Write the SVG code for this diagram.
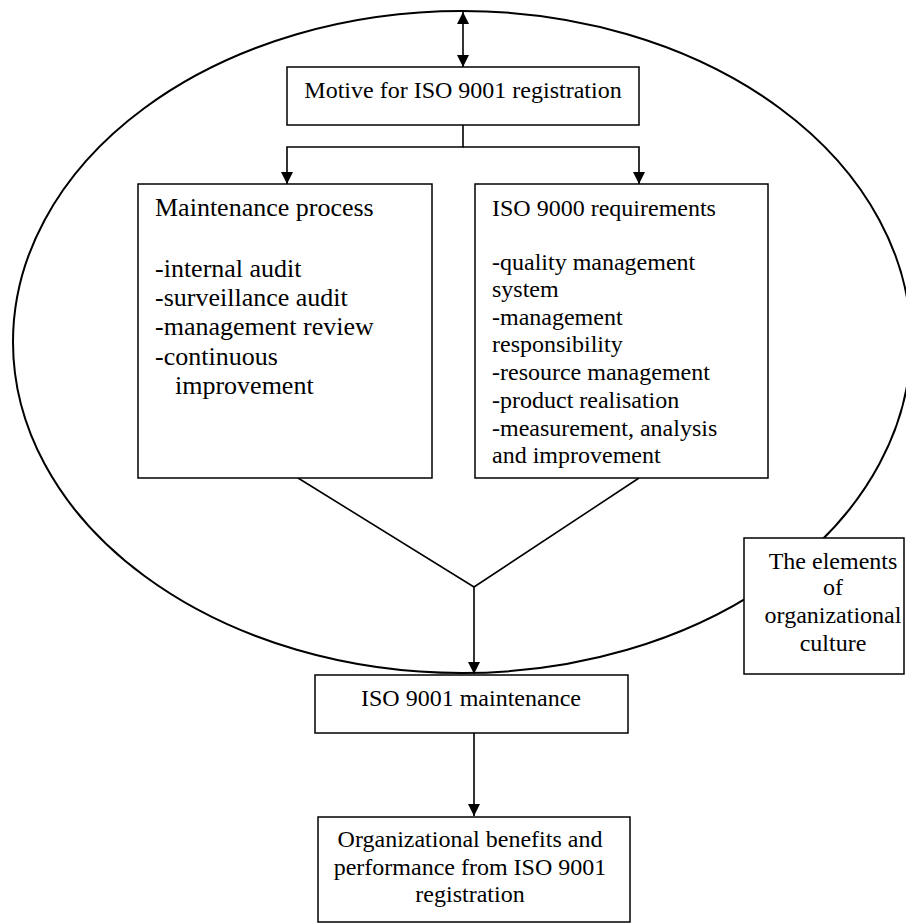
<svg xmlns="http://www.w3.org/2000/svg" width="906" height="924" viewBox="0 0 906 924">
<style>
text{font-family:"Liberation Serif","Times New Roman",serif;fill:#000;}
.box{fill:#fff;stroke:#000;stroke-width:1.5;}
.t24{font-size:24px;}
.t26{font-size:26px;}
.c{text-anchor:middle;}
.conn{fill:none;stroke:#000;stroke-width:1.6;}
</style>
<defs>
<marker id="ah" markerUnits="userSpaceOnUse" markerWidth="12" markerHeight="12" refX="12" refY="6" orient="auto-start-reverse">
<path d="M0,0 L12,6 L0,12 z" fill="#000"/>
</marker>
</defs>
<ellipse id="culture-ellipse" cx="462" cy="342" rx="449" ry="331" fill="none" stroke="#000" stroke-width="2"/>
<g id="connectors">
<line class="conn" x1="463" y1="12" x2="463" y2="67" stroke-width="2.4" marker-start="url(#ah)" marker-end="url(#ah)"/>
<path class="conn" d="M463,125 V147 H287 V184" marker-end="url(#ah)"/>
<path class="conn" d="M463,147 H639 V184" marker-end="url(#ah)"/>
<path class="conn" d="M298,478 L474,587 L639,478"/>
<line class="conn" x1="474" y1="587" x2="474" y2="674" marker-end="url(#ah)"/>
<line class="conn" x1="474" y1="733" x2="474" y2="816" marker-end="url(#ah)"/>
</g>
<g id="motive">
<rect class="box" x="287" y="67" width="352" height="58"/>
<text class="t24 c" x="463" y="98">Motive for ISO 9001 registration</text>
</g>
<g id="maintenance-process">
<rect class="box" x="138" y="184" width="294" height="294"/>
<text class="t26" x="155" y="216">Maintenance process</text>
<text class="t26" x="155" y="277">-internal audit</text>
<text class="t26" x="155" y="306">-surveillance audit</text>
<text class="t26" x="155" y="335">-management review</text>
<text class="t26" x="155" y="365">-continuous</text>
<text class="t26" x="175" y="394">improvement</text>
</g>
<g id="iso-requirements">
<rect class="box" x="475" y="184" width="293" height="294"/>
<text class="t24" x="492" y="216">ISO 9000 requirements</text>
<text class="t24" x="492" y="270">-quality management</text>
<text class="t24" x="492" y="297">system</text>
<text class="t24" x="492" y="325">-management</text>
<text class="t24" x="492" y="352">responsibility</text>
<text class="t24" x="492" y="380">-resource management</text>
<text class="t24" x="492" y="408">-product realisation</text>
<text class="t24" x="492" y="436">-measurement, analysis</text>
<text class="t24" x="492" y="463">and improvement</text>
</g>
<g id="culture">
<rect class="box" x="744" y="538" width="160" height="136"/>
<text class="t24 c" x="833" y="569">The elements</text>
<text class="t24 c" x="833" y="595">of</text>
<text class="t24 c" x="833" y="623">organizational</text>
<text class="t24 c" x="833" y="651">culture</text>
</g>
<g id="iso-maintenance">
<rect class="box" x="315" y="675" width="313" height="58"/>
<text class="t24 c" x="471" y="706">ISO 9001 maintenance</text>
</g>
<g id="benefits">
<rect class="box" x="318" y="817" width="312" height="105"/>
<text class="t24 c" x="470" y="847">Organizational benefits and</text>
<text class="t24 c" x="470" y="875">performance from ISO 9001</text>
<text class="t24 c" x="470" y="902">registration</text>
</g>
</svg>
